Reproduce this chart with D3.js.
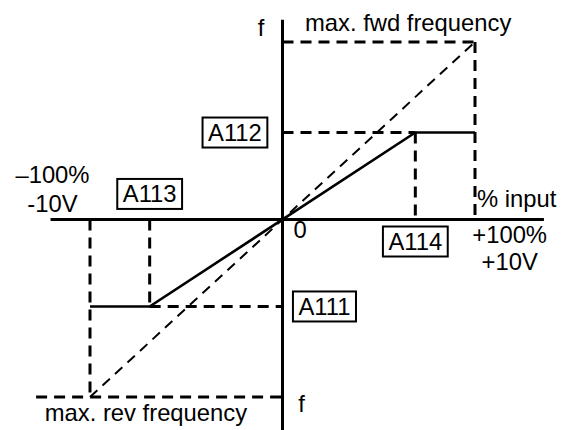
<!DOCTYPE html>
<html>
<head>
<meta charset="utf-8">
<script src="https://cdn.jsdelivr.net/npm/d3@7"></script>
<style>
  html, body { margin: 0; padding: 0; background: #fff; }
  svg { display: block; }
  text { font-family: "Liberation Sans", Arial, Helvetica, sans-serif; font-size: 23.8px; fill: #000; }
</style>
</head>
<body>
<svg id="chart" width="574" height="430"></svg>
<script>
// ---- data (percent of full scale) ----
const inputPoints = [-100, -69, 69, 100];       // % input
const freqPoints  = [-49, -49, 49, 49];         // % of max frequency
const maxFreq = 100;                            // max fwd / rev frequency
const params = [
  { name: "A111", input: -69, freq: -49 },
  { name: "A112", input: 69,  freq: 49 },
  { name: "A113", input: -69, freq: -49 },
  { name: "A114", input: 69,  freq: 49 }
];
const endLabelsLeft  = ["\u2013100%", "-10V"];
const endLabelsRight = ["+100%", "+10V"];

const svg = d3.select("#chart");
const x = d3.scaleLinear().domain([-100, 100]).range([90, 475]);
const y = d3.scaleLinear().domain([-100, 100]).range([397, 42]);

const line = d3.line().x(d => x(d[0])).y(d => y(d[1]));

// axes
svg.append("line").attr("x1", x(-120.5)).attr("x2", x(135.8)).attr("y1", y(0)).attr("y2", y(0))
  .attr("stroke", "#000").attr("stroke-width", 3);
svg.append("line").attr("x1", x(0)).attr("x2", x(0)).attr("y1", y(112.5)).attr("y2", y(-120))
  .attr("stroke", "#000").attr("stroke-width", 3);

// guide dashed lines
const A111 = params[0], A112 = params[1], A113 = params[2], A114 = params[3];
const guides = [
  [[0, maxFreq], [100, maxFreq]],
  [[100, maxFreq], [100, 0]],
  [[0, A112.freq], [A114.input, A112.freq]],
  [[A114.input, A112.freq], [A114.input, 0]],
  [[A113.input, 0], [A113.input, A111.freq]],
  [[A113.input, A111.freq], [0, A111.freq]],
  [[-100, 0], [-100, -maxFreq]],
  [[-128, -maxFreq], [0, -maxFreq]]
];
svg.append("g").selectAll("path").data(guides).join("path")
  .attr("d", line).attr("fill", "none").attr("stroke", "#000")
  .attr("stroke-width", 3).attr("stroke-dasharray", "11,7");

// diagonal (full-range) dashed line
svg.append("path").attr("d", line([[-100, -maxFreq], [100, maxFreq]]))
  .attr("fill", "none").attr("stroke", "#000").attr("stroke-width", 2)
  .attr("stroke-dasharray", "10,7");

// characteristic
svg.append("path").attr("d", line(inputPoints.map((v, i) => [v, freqPoints[i]])))
  .attr("fill", "none").attr("stroke", "#000").attr("stroke-width", 2.6);

// plain labels
function label(txt, px, py, anchor) {
  return svg.append("text").attr("x", px).attr("y", py).attr("text-anchor", anchor || "start").text(txt);
}
label("f", x(-12.8), y(103.4));
label("max. fwd frequency", x(11.7), y(106.3));
label("f", x(8.2), y(-108.5));
label("max. rev frequency", x(-123.5), y(-113.5));
label("0", x(5.7), y(-10.4));
label("% input", x(101), y(6.8));
label(endLabelsLeft[0], x(-119.5), y(20.5), "middle");
label(endLabelsLeft[1], x(-119.5), y(4.5), "middle");
label(endLabelsRight[0], x(118), y(-13), "middle");
label(endLabelsRight[1], x(118), y(-28.5), "middle");

// boxed parameter labels (anchored to their parameter positions)
const boxes = [
  { p: "A112", cx: x(-24.7),      cy: y(A112.freq) },
  { p: "A113", cx: x(A113.input), cy: y(14.4) },
  { p: "A114", cx: x(A114.input), cy: y(-12.4) },
  { p: "A111", cx: x(21.8),       cy: y(A111.freq) }
];
boxes.forEach(b => {
  const g = svg.append("g");
  const t = g.append("text").attr("x", b.cx).attr("y", b.cy + 8.5).attr("text-anchor", "middle").text(b.p);
  const w = t.node().getBBox().width + 11;
  g.insert("rect", "text").attr("x", b.cx - w / 2).attr("y", b.cy - 15)
    .attr("width", w).attr("height", 30).attr("fill", "#fff")
    .attr("stroke", "#000").attr("stroke-width", 2);
});
</script>
</body>
</html>
